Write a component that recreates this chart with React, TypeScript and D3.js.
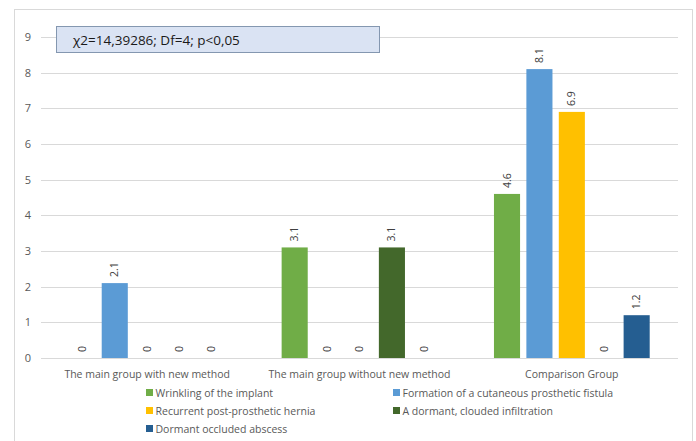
import React from "react";
import * as d3 from "d3";

const groups = [
  "The main group with new method",
  "The main group without new method",
  "Comparison Group",
];
const seriesNames = [
  "Wrinkling of the implant",
  "Formation of a cutaneous prosthetic fistula",
  "Recurrent post-prosthetic hernia",
  "A dormant, clouded infiltration",
  "Dormant occluded abscess",
];
const seriesColors = ["#70ad47", "#5b9bd5", "#ffc000", "#43682b", "#255e91"];
const wrinkling = [0, 3.1, 4.6];
const fistula = [2.1, 0, 8.1];
const hernia = [0, 0, 6.9];
const infiltration = [0, 3.1, 0];
const abscess = [0, 0, 1.2];
const yTicks = [0, 1, 2, 3, 4, 5, 6, 7, 8, 9];
const statText = "χ2=14,39286; Df=4; p<0,05";

const seriesValues = [wrinkling, fistula, hernia, infiltration, abscess];

const W = 696;
const H = 441;
const FONT = "Open Sans, Noto Sans, sans-serif";

export default function App() {
  const plotLeft = 41;
  const plotRight = 678;
  const y = d3.scaleLinear().domain([0, 9]).range([358, 37]);
  const x0 = d3.scaleBand<string>().domain(groups).range([plotLeft, plotRight]).padding(0);
  const groupPad = 28.3;
  const x1 = d3
    .scaleBand<number>()
    .domain(d3.range(seriesNames.length))
    .range([groupPad, x0.bandwidth() - groupPad])
    .paddingInner(0.195)
    .paddingOuter(0);

  const legendItems = [
    { i: 0, x: 146, y: 393 },
    { i: 1, x: 393, y: 393 },
    { i: 2, x: 146, y: 411 },
    { i: 3, x: 393, y: 411 },
    { i: 4, x: 146, y: 429 },
  ];

  return (
    <svg
      width={W}
      height={H}
      style={{ position: "fixed", left: 0, top: 0, background: "#fff" }}
      fontFamily={FONT}
    >
      <rect x={0} y={0} width={W} height={H} fill="#fff" />
      {/* chart frame */}
      <rect x={14.5} y={9.5} width={678} height={450} fill="none" stroke="#d9d9d9" strokeWidth={1} />

      {/* gridlines and y tick labels */}
      {yTicks.map((t) => (
        <g key={t}>
          <line
            x1={plotLeft}
            x2={plotRight}
            y1={Math.round(y(t)) + 0.5}
            y2={Math.round(y(t)) + 0.5}
            stroke="#d9d9d9"
            strokeWidth={1}
          />
          <text x={31} y={y(t) + 4} textAnchor="end" fontSize={11} fill="#595959">
            {t}
          </text>
        </g>
      ))}

      {/* bars and value labels */}
      {groups.map((g, gi) => (
        <g key={g} transform={`translate(${x0(g)},0)`}>
          {seriesValues.map((vals, si) => {
            const v = vals[gi];
            const bx = x1(si)!;
            const bw = x1.bandwidth();
            const top = y(v);
            const cx = bx + bw / 2;
            return (
              <g key={si}>
                {v > 0 && (
                  <rect x={bx} y={top} width={bw} height={y(0) - top} fill={seriesColors[si]} />
                )}
                <text
                  transform={`translate(${cx + 3.5},${top - 6}) rotate(-90)`}
                  textAnchor="start"
                  fontSize={10.5}
                  fill="#404040"
                >
                  {String(v)}
                </text>
              </g>
            );
          })}
        </g>
      ))}

      {/* category labels */}
      {groups.map((g) => (
        <text
          key={g}
          x={x0(g)! + x0.bandwidth() / 2}
          y={378}
          textAnchor="middle"
          fontSize={10.5}
          fill="#595959"
        >
          {g}
        </text>
      ))}

      {/* legend */}
      {legendItems.map(({ i, x, y: ly }) => (
        <g key={i}>
          <rect x={x} y={ly - 4} width={7} height={7} fill={seriesColors[i]} />
          <text x={x + 9.5} y={ly + 3.5} fontSize={10.5} fill="#595959">
            {seriesNames[i]}
          </text>
        </g>
      ))}

      {/* statistics box */}
      <rect x={56.5} y={26.5} width={323} height={26} fill="#dae3f3" stroke="#8497b0" strokeWidth={1} />
      <text x={73} y={45} fontSize={13.5} fill="#1a1a1a">
        {statText}
      </text>
    </svg>
  );
}
